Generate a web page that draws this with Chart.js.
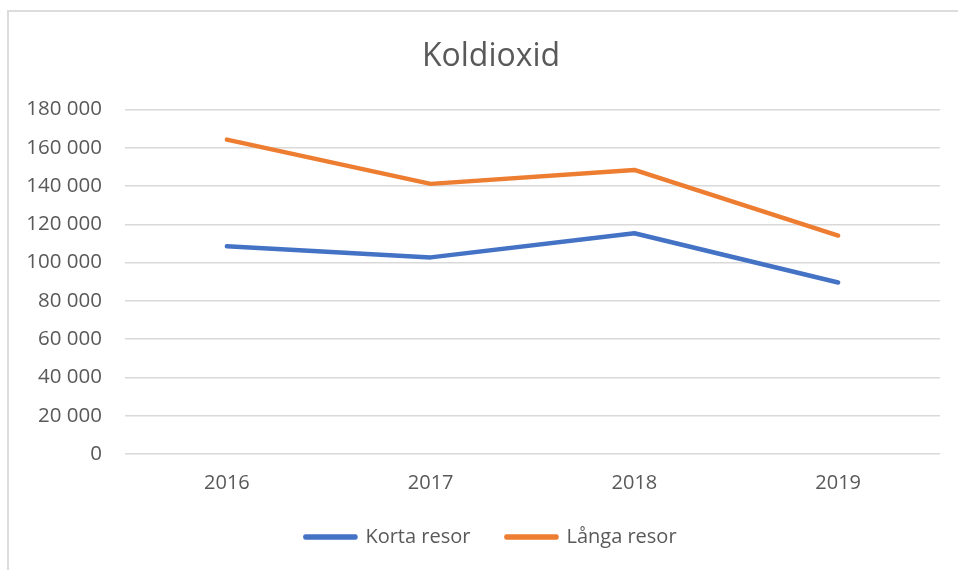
<!DOCTYPE html>
<html>
<head>
<meta charset="utf-8">
<script src="https://cdn.jsdelivr.net/npm/chart.js@4/dist/chart.umd.min.js"></script>
<style>
  html, body { margin: 0; padding: 0; background: #fff; overflow: hidden; }
  body { width: 958px; height: 570px; position: relative; }
  #frame {
    position: absolute; left: 7px; top: 10px;
    width: 964px; height: 558px;
    border-left: 2px solid #dcdcdc; border-top: 2px solid #dcdcdc;
  }
  #co2_chart { display: block; }
</style>
</head>
<body>
<div id="frame"><canvas id="co2_chart" width="964" height="558"></canvas></div>
<script>
const years = ['2016', '2017', '2018', '2019']
const korta_resor = [108500, 102700, 115300, 89600]
const langa_resor = [164200, 141100, 148400, 114100]
const y_max = 180000
const y_step = 20000

const text_color = '#595959'
const font_family = "'Open Sans', sans-serif"
const pad_left = 11
const pad_right = 33

// 180000 -> "180 000"
function spaced(v) {
    return String(v).replace(/\B(?=(\d{3})+(?!\d))/g, ' ')
}

// title and legend are centred on the whole frame, not on the padded box
const centreBlocks = {
    id: 'centreBlocks',
    afterLayout(chart) {
        const shift = (pad_right - pad_left) / 2
        for (const box of [chart.titleBlock, chart.legend]) {
            if (!box) continue
            box.left += shift
            box.right += shift
        }
    }
}

const co2_chart = document.querySelector('#co2_chart')

new Chart(co2_chart, {
    type: 'line',
    data: {
        labels: years,
        datasets: [{
            label: 'Korta resor',
            data: korta_resor,
            borderColor: '#4472C4',
            backgroundColor: '#4472C4',
            borderWidth: 4.5,
            pointRadius: 0,
            tension: 0,
            borderCapStyle: 'round',
            borderJoinStyle: 'round'
        }, {
            label: 'Långa resor',
            data: langa_resor,
            borderColor: '#ED7D31',
            backgroundColor: '#ED7D31',
            borderWidth: 4.5,
            pointRadius: 0,
            tension: 0,
            borderCapStyle: 'round',
            borderJoinStyle: 'round'
        }]
    },
    plugins: [centreBlocks],
    options: {
        responsive: false,
        animation: false,
        layout: {
            padding: { left: pad_left, right: pad_right, top: 0, bottom: 13 }
        },
        plugins: {
            title: {
                display: true,
                text: 'Koldioxid',
                color: text_color,
                font: { family: font_family, size: 32, weight: 'normal' },
                padding: { top: 26, bottom: 33 }
            },
            legend: {
                position: 'bottom',
                labels: {
                    color: text_color,
                    font: { family: font_family, size: 20 },
                    boxWidth: 50,
                    boxHeight: 1,
                    padding: 36
                }
            },
            tooltip: { enabled: false }
        },
        scales: {
            x: {
                offset: true,
                grid: { display: false },
                border: { display: false },
                ticks: {
                    color: text_color,
                    font: { family: font_family, size: 20 },
                    padding: 9
                },
                afterFit(scale) { scale.height = 37 }
            },
            y: {
                min: 0,
                max: y_max,
                grid: { color: '#d9d9d9', lineWidth: 1.5, drawTicks: false },
                border: { display: false },
                ticks: {
                    stepSize: y_step,
                    color: text_color,
                    font: { family: font_family, size: 20.5 },
                    padding: 23,
                    callback: (v) => spaced(v)
                },
                afterFit(scale) { scale.width = 105 }
            }
        }
    }
})
</script>
</body>
</html>
